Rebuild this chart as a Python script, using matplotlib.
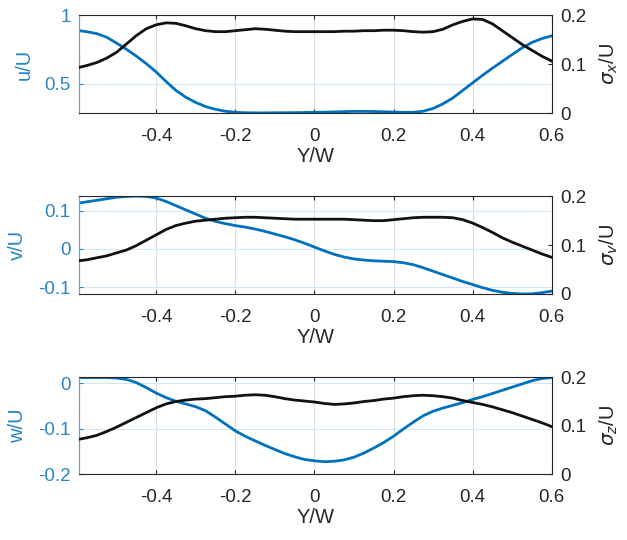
import matplotlib
matplotlib.use("Agg")
import matplotlib.pyplot as plt
from matplotlib.ticker import FuncFormatter

plt.rcParams['font.family'] = ['Liberation Sans', 'DejaVu Sans']
plt.rcParams['axes.unicode_minus'] = False
plt.rcParams['mathtext.fontset'] = 'dejavusans'

# Y/W positions shared by all three panels
y_w = [-0.595, -0.575, -0.55, -0.525, -0.5, -0.475, -0.45, -0.425, -0.4, -0.375,
       -0.35, -0.325, -0.3, -0.275, -0.25, -0.225, -0.2, -0.175, -0.15, -0.125,
       -0.1, -0.075, -0.05, -0.025, 0.0, 0.025, 0.05, 0.075, 0.1, 0.125,
       0.15, 0.175, 0.2, 0.225, 0.25, 0.275, 0.3, 0.325, 0.35, 0.375,
       0.4, 0.425, 0.45, 0.475, 0.5, 0.525, 0.55, 0.575, 0.6]

u_mean = [0.886, 0.878, 0.864, 0.838, 0.795, 0.750, 0.700, 0.645, 0.585, 0.515,
          0.450, 0.400, 0.362, 0.332, 0.312, 0.298, 0.290, 0.287, 0.286, 0.286,
          0.287, 0.287, 0.288, 0.289, 0.290, 0.291, 0.293, 0.295, 0.297, 0.297,
          0.296, 0.294, 0.292, 0.290, 0.290, 0.298, 0.318, 0.352, 0.395, 0.450,
          0.505, 0.560, 0.612, 0.662, 0.712, 0.760, 0.800, 0.828, 0.848]
sigma_x = [0.093, 0.097, 0.103, 0.112, 0.124, 0.141, 0.158, 0.172, 0.180, 0.184,
           0.183, 0.178, 0.172, 0.168, 0.166, 0.166, 0.168, 0.170, 0.172, 0.171,
           0.169, 0.167, 0.166, 0.166, 0.166, 0.166, 0.166, 0.167, 0.167, 0.168,
           0.168, 0.169, 0.169, 0.168, 0.166, 0.165, 0.166, 0.171, 0.180, 0.187,
           0.192, 0.191, 0.182, 0.168, 0.154, 0.140, 0.128, 0.116, 0.106]

v_mean = [0.120, 0.123, 0.127, 0.131, 0.135, 0.137, 0.138, 0.137, 0.133, 0.124,
          0.113, 0.102, 0.091, 0.080, 0.072, 0.066, 0.061, 0.057, 0.052, 0.046,
          0.039, 0.032, 0.024, 0.015, 0.005, -0.005, -0.014, -0.021, -0.026, -0.029,
          -0.031, -0.032, -0.033, -0.036, -0.041, -0.049, -0.058, -0.067, -0.076, -0.085,
          -0.093, -0.101, -0.108, -0.113, -0.116, -0.1175, -0.117, -0.114, -0.110]
sigma_v = [0.068, 0.070, 0.074, 0.078, 0.084, 0.090, 0.099, 0.110, 0.121, 0.132,
           0.140, 0.145, 0.149, 0.151, 0.153, 0.155, 0.156, 0.157, 0.157, 0.156,
           0.155, 0.154, 0.153, 0.153, 0.153, 0.153, 0.153, 0.153, 0.152, 0.151,
           0.150, 0.150, 0.152, 0.154, 0.156, 0.157, 0.157, 0.157, 0.156, 0.152,
           0.145, 0.136, 0.126, 0.115, 0.106, 0.098, 0.090, 0.082, 0.075]

w_mean = [0.012, 0.012, 0.012, 0.012, 0.011, 0.008, 0.001, -0.010, -0.022, -0.032,
          -0.040, -0.046, -0.052, -0.061, -0.075, -0.090, -0.105, -0.117, -0.127, -0.137,
          -0.146, -0.155, -0.162, -0.168, -0.171, -0.173, -0.172, -0.169, -0.163, -0.154,
          -0.143, -0.131, -0.117, -0.101, -0.086, -0.072, -0.062, -0.055, -0.049, -0.043,
          -0.036, -0.030, -0.023, -0.016, -0.009, -0.002, 0.005, 0.010, 0.012]
sigma_z = [0.072, 0.075, 0.080, 0.088, 0.097, 0.107, 0.117, 0.127, 0.137, 0.145,
           0.150, 0.153, 0.155, 0.156, 0.158, 0.160, 0.161, 0.163, 0.164, 0.163,
           0.160, 0.156, 0.153, 0.151, 0.149, 0.146, 0.144, 0.145, 0.147, 0.150,
           0.152, 0.155, 0.157, 0.160, 0.162, 0.163, 0.162, 0.160, 0.157, 0.152,
           0.148, 0.144, 0.139, 0.133, 0.127, 0.120, 0.113, 0.106, 0.098]

x_ticks = [-0.4, -0.2, 0, 0.2, 0.4, 0.6]

panels = [
    dict(mean=u_mean, sigma=sigma_x, ylabel='u/U', slabel=r'$\sigma_x$/U',
         ylim=(0.285, 1.0), yticks=[0.5, 1], rect=[0.126, 0.7907, 0.754, 0.1815]),
    dict(mean=v_mean, sigma=sigma_v, ylabel='v/U', slabel=r'$\sigma_v$/U',
         ylim=(-0.1175, 0.1376), yticks=[-0.1, 0, 0.1], rect=[0.126, 0.4556, 0.754, 0.181]),
    dict(mean=w_mean, sigma=sigma_z, ylabel='w/U', slabel=r'$\sigma_z$/U',
         ylim=(-0.2, 0.0125), yticks=[-0.2, -0.1, 0], rect=[0.126, 0.1222, 0.754, 0.179]),
]

blue = '#0072BD'
blue_txt = '#2a86c8'
dark = '#262626'
fmt = FuncFormatter(lambda v, p: '%g' % round(v, 3))

fig = plt.figure(figsize=(6.27, 5.40), dpi=100)

for p in panels:
    ax = fig.add_axes(p['rect'])
    ax2 = ax.twinx()

    ax.plot(y_w, p['mean'], color=blue, lw=2.0)
    ax2.plot(y_w, p['sigma'], color='#111111', lw=2.0)

    ax.set_xlim(-0.595, 0.6)
    ax.set_xticks(x_ticks)
    ax.xaxis.set_major_formatter(fmt)
    ax.set_ylim(*p['ylim'])
    ax.set_yticks(p['yticks'])
    ax.yaxis.set_major_formatter(fmt)
    ax2.set_ylim(0, 0.2)
    ax2.set_yticks([0, 0.1, 0.2])
    ax2.yaxis.set_major_formatter(fmt)

    ax.grid(axis='x', color='#dcdcdc', lw=0.8)
    ax.grid(axis='y', color='#d4e6f4', lw=0.8)
    ax.set_axisbelow(True)

    ax.tick_params(axis='x', direction='in', length=3, top=True, colors=dark,
                   labelsize=13.5, pad=11, labelcolor='#262626')
    ax.tick_params(axis='y', direction='in', length=3, colors=blue_txt,
                   labelsize=13.5, pad=6)
    ax2.tick_params(axis='y', direction='in', length=3, colors=dark,
                    labelsize=13.5, pad=6)

    for s in ['top', 'bottom']:
        ax.spines[s].set_color(dark)
        ax.spines[s].set_linewidth(0.8)
        ax2.spines[s].set_visible(False)
    ax.spines['left'].set_color('#5aa6dc')
    ax.spines['left'].set_linewidth(0.9)
    ax.spines['right'].set_visible(False)
    ax2.spines['left'].set_visible(False)
    ax2.spines['right'].set_color(dark)
    ax2.spines['right'].set_linewidth(0.8)

    ax.set_ylabel(p['ylabel'], color=blue_txt, fontsize=14.5, labelpad=8)
    ax2.set_ylabel(p['slabel'], color=dark, fontsize=14.5, labelpad=8)
    ax.set_xlabel('Y/W', color=dark, fontsize=14.5, labelpad=1)

fig.savefig('out.png', dpi=100)
